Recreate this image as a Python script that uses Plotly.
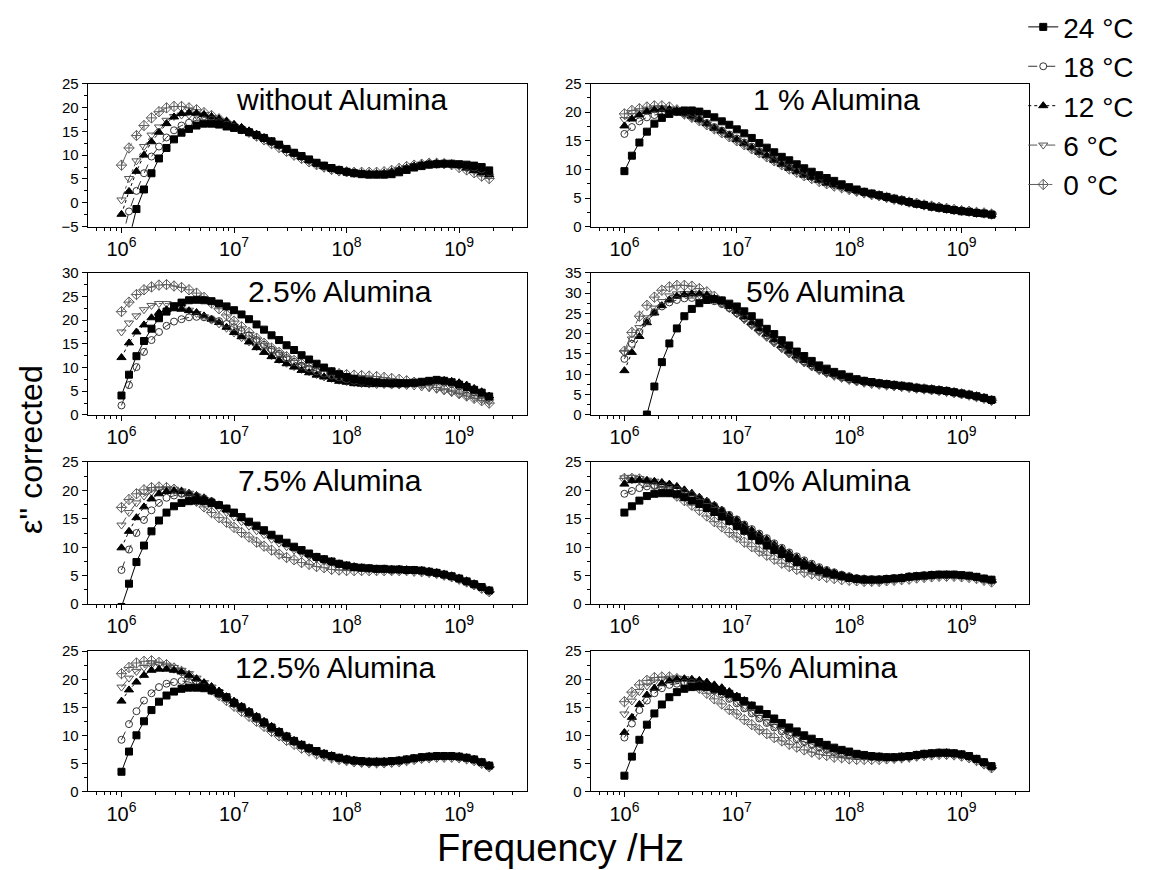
import plotly.graph_objects as go

# ---------------- data ----------------
freq_hz = [1.000e6, 1.166e6, 1.359e6, 1.585e6, 1.848e6, 2.154e6, 2.512e6, 2.929e6, 3.415e6, 3.981e6,
           4.642e6, 5.412e6, 6.310e6, 7.356e6, 8.577e6, 1.000e7, 1.166e7, 1.359e7, 1.585e7, 1.848e7,
           2.154e7, 2.512e7, 2.929e7, 3.415e7, 3.981e7, 4.642e7, 5.412e7, 6.310e7, 7.356e7, 8.577e7,
           1.000e8, 1.166e8, 1.359e8, 1.585e8, 1.848e8, 2.154e8, 2.512e8, 2.929e8, 3.415e8, 3.981e8,
           4.642e8, 5.412e8, 6.310e8, 7.356e8, 8.577e8, 1.000e9, 1.166e9, 1.359e9, 1.585e9, 1.848e9]

temperatures = ["24 °C", "18 °C", "12 °C", "6 °C", "0 °C"]
panel_titles = ["without Alumina", "1 % Alumina", "2.5% Alumina", "5% Alumina",
                "7.5% Alumina", "10% Alumina", "12.5% Alumina", "15% Alumina"]

# without Alumina
none_24 = [-14, -7.3, -1.3, 2.8, 6.2, 9.3, 11.5, 13.3, 14.7, 15.5,
           16.2, 16.6, 16.6, 16.4, 16.0, 15.7, 15.3, 14.8, 14.2, 13.6,
           12.9, 12.2, 11.3, 10.5, 9.8, 9.1, 8.4, 7.8, 7.3, 6.9,
           6.5, 6.2, 6.0, 5.9, 5.9, 5.9, 6.0, 6.4, 6.9, 7.4,
           7.7, 8.0, 8.1, 8.2, 8.2, 8.1, 8.0, 7.8, 7.5, 6.8]
none_18 = [-8.0, -1.8, 2.5, 6.2, 9.7, 11.8, 13.7, 15.2, 16.2, 16.8,
           17.3, 17.4, 17.4, 16.9, 16.4, 15.9, 15.3, 14.8, 14.2, 13.5,
           12.8, 12.0, 11.2, 10.4, 9.7, 9.0, 8.3, 7.7, 7.2, 6.8,
           6.5, 6.3, 6.1, 6.0, 6.0, 6.0, 6.2, 6.6, 7.1, 7.5,
           7.8, 8.1, 8.2, 8.2, 8.1, 7.9, 7.7, 7.4, 7.0, 6.4]
none_12 = [-2.4, 2.4, 6.6, 10.0, 12.8, 14.8, 16.6, 18.0, 18.7, 18.9,
           18.8, 18.5, 18.1, 17.6, 17.1, 16.4, 15.8, 15.1, 14.4, 13.7,
           12.9, 12.1, 11.2, 10.4, 9.6, 8.9, 8.2, 7.6, 7.1, 6.8,
           6.5, 6.3, 6.2, 6.1, 6.1, 6.2, 6.5, 6.9, 7.3, 7.7,
           8.0, 8.2, 8.3, 8.2, 8.0, 7.8, 7.3, 6.8, 6.3, 5.9]
none_6 = [0.6, 5.1, 8.8, 11.8, 14.2, 15.9, 17.3, 18.1, 18.4, 18.4,
          18.3, 18.0, 17.6, 17.1, 16.6, 16.0, 15.4, 14.8, 14.1, 13.4,
          12.6, 11.9, 11.1, 10.3, 9.5, 8.8, 8.1, 7.6, 7.1, 6.8,
          6.5, 6.4, 6.3, 6.2, 6.2, 6.3, 6.6, 7.0, 7.4, 7.8,
          8.1, 8.2, 8.3, 8.2, 8.0, 7.7, 7.2, 6.7, 6.2, 5.6]
none_0 = [7.9, 11.5, 14.1, 16.2, 17.8, 19.1, 19.9, 20.2, 20.2, 19.9,
          19.5, 18.9, 18.3, 17.6, 16.9, 16.2, 15.5, 14.8, 14.0, 13.2,
          12.4, 11.6, 10.8, 10.0, 9.3, 8.6, 8.0, 7.5, 7.0, 6.7,
          6.5, 6.4, 6.4, 6.4, 6.4, 6.5, 6.8, 7.2, 7.6, 7.9,
          8.1, 8.3, 8.3, 8.2, 8.0, 7.4, 6.9, 6.3, 5.6, 5.1]

# 1 % Alumina
al1_24 = [9.7, 12.4, 14.7, 16.6, 18.0, 19.0, 19.7, 20.1, 20.3, 20.3,
          20.1, 19.7, 19.1, 18.4, 17.8, 17.0, 16.3, 15.5, 14.6, 13.8,
          13.0, 12.2, 11.6, 10.9, 10.2, 9.6, 9.0, 8.5, 8.0, 7.4,
          6.9, 6.5, 6.1, 5.8, 5.5, 5.2, 4.9, 4.6, 4.3, 4.0,
          3.8, 3.5, 3.3, 3.1, 2.9, 2.7, 2.6, 2.4, 2.3, 2.1]
al1_18 = [16.2, 17.4, 18.4, 19.1, 19.5, 19.8, 20.0, 20.0, 19.8, 19.3,
          18.8, 18.1, 17.4, 16.8, 16.1, 15.4, 14.7, 14.0, 13.2, 12.6,
          11.8, 11.1, 10.4, 9.8, 9.2, 8.7, 8.2, 7.7, 7.3, 7.0,
          6.6, 6.3, 6.0, 5.7, 5.4, 5.1, 4.8, 4.5, 4.2, 4.0,
          3.7, 3.5, 3.3, 3.1, 2.9, 2.8, 2.6, 2.5, 2.3, 2.2]
al1_12 = [17.6, 18.8, 19.5, 20.1, 20.4, 20.5, 20.5, 20.3, 19.8, 19.3,
          18.7, 18.0, 17.2, 16.7, 16.0, 15.2, 14.5, 13.8, 13.0, 12.4,
          11.6, 10.9, 10.2, 9.6, 9.0, 8.6, 8.1, 7.6, 7.3, 7.0,
          6.6, 6.3, 6.0, 5.7, 5.4, 5.1, 4.8, 4.5, 4.2, 3.9,
          3.7, 3.5, 3.3, 3.1, 2.9, 2.7, 2.6, 2.4, 2.3, 2.1]
al1_6 = [18.7, 19.4, 19.9, 20.3, 20.5, 20.6, 20.5, 20.2, 19.7, 19.1,
         18.6, 17.9, 17.2, 16.5, 15.8, 15.1, 14.4, 13.7, 13.0, 12.3,
         11.6, 10.9, 10.3, 9.7, 9.1, 8.6, 8.1, 7.7, 7.3, 6.9,
         6.5, 6.2, 5.9, 5.6, 5.3, 5.0, 4.8, 4.5, 4.2, 4.0,
         3.7, 3.5, 3.3, 3.1, 2.9, 2.8, 2.6, 2.5, 2.3, 2.2]
al1_0 = [19.7, 20.3, 20.6, 20.9, 21.1, 21.1, 20.9, 20.4, 19.7, 19.1,
         18.5, 17.8, 17.1, 16.4, 15.7, 15.0, 14.3, 13.6, 12.9, 12.2,
         11.5, 10.8, 10.1, 9.5, 8.9, 8.4, 7.9, 7.5, 7.1, 6.8,
         6.5, 6.2, 5.9, 5.6, 5.4, 5.1, 4.8, 4.6, 4.3, 4.1,
         3.8, 3.6, 3.4, 3.2, 3.0, 2.8, 2.7, 2.5, 2.4, 2.2]

# 2.5 % Alumina
al25_24 = [4.1, 8.5, 12.4, 15.6, 18.2, 20.4, 21.8, 22.9, 23.7, 24.2,
           24.3, 24.2, 24.0, 23.5, 22.9, 22.1, 21.2, 20.2, 19.1, 18.0,
           16.8, 15.8, 14.7, 13.7, 12.6, 11.7, 10.8, 10.0, 9.2, 8.6,
           8.0, 7.6, 7.3, 7.1, 6.9, 6.8, 6.7, 6.7, 6.7, 6.8,
           7.0, 7.2, 7.4, 7.2, 6.9, 6.4, 5.9, 5.3, 4.7, 3.9]
al25_18 = [2.0, 6.3, 10.1, 13.3, 15.8, 17.5, 18.8, 19.7, 20.2, 20.6,
           20.7, 20.6, 20.2, 19.8, 19.2, 18.5, 17.7, 16.8, 15.8, 14.8,
           13.8, 12.9, 12.0, 11.2, 10.4, 9.8, 9.2, 8.7, 8.3, 7.9,
           7.5, 7.2, 7.0, 6.8, 6.7, 6.6, 6.5, 6.5, 6.5, 6.6,
           6.8, 7.0, 7.0, 6.8, 6.5, 6.0, 5.4, 4.8, 4.2, 3.6]
al25_12 = [12.1, 15.2, 17.5, 19.0, 20.5, 21.6, 22.2, 22.4, 22.3, 22.0,
           21.6, 20.9, 20.2, 19.5, 18.5, 17.4, 16.5, 15.4, 14.2, 13.2,
           12.3, 11.5, 10.8, 10.1, 9.4, 8.9, 8.4, 8.0, 7.5, 7.1,
           6.9, 6.6, 6.5, 6.4, 6.4, 6.4, 6.4, 6.5, 6.6, 6.7,
           6.9, 7.1, 7.3, 7.3, 7.1, 6.8, 6.3, 5.6, 4.9, 4.0]
al25_6 = [17.5, 19.4, 20.9, 22.2, 23.1, 23.5, 23.5, 23.3, 22.8, 22.1,
          21.4, 20.7, 20.0, 19.2, 18.3, 17.3, 16.3, 15.4, 14.4, 13.5,
          12.5, 11.7, 10.9, 10.2, 9.6, 9.1, 8.5, 8.0, 7.7, 7.3,
          7.0, 6.8, 6.6, 6.5, 6.4, 6.4, 6.3, 6.3, 6.2, 6.1,
          5.9, 5.7, 5.4, 5.1, 4.8, 4.4, 4.0, 3.6, 3.2, 2.8]
al25_0 = [21.8, 23.8, 25.4, 26.4, 27.0, 27.4, 27.5, 27.2, 26.9, 26.4,
          25.7, 24.8, 23.6, 22.4, 21.1, 19.8, 18.6, 17.4, 16.2, 15.1,
          14.1, 13.2, 12.3, 11.5, 10.8, 10.2, 9.7, 9.3, 9.0, 8.7,
          8.5, 8.4, 8.3, 8.2, 8.1, 7.9, 7.7, 7.5, 7.2, 6.9,
          6.6, 6.2, 5.8, 5.4, 5.0, 4.5, 4.0, 3.5, 3.0, 2.5]

# 5 % Alumina
al5_24 = [-22, -13, -5.5, 0.1, 7.0, 13.0, 17.6, 21.3, 24.3, 26.1,
          27.5, 28.3, 28.5, 28.2, 27.4, 26.7, 25.5, 24.3, 22.7, 21.2,
          19.9, 18.4, 17.1, 15.6, 14.5, 13.3, 12.2, 11.4, 10.6, 10.0,
          9.4, 8.8, 8.4, 8.1, 7.8, 7.6, 7.4, 7.2, 7.0, 6.7,
          6.5, 6.3, 6.1, 5.9, 5.6, 5.3, 5.0, 4.6, 4.2, 3.7]
al5_18 = [13.8, 17.5, 20.4, 23.1, 25.3, 26.7, 27.7, 28.3, 28.7, 28.8,
          28.7, 28.5, 28.0, 27.3, 26.3, 25.1, 23.8, 22.4, 20.9, 19.6,
          18.2, 16.8, 15.5, 14.3, 13.2, 12.2, 11.3, 10.5, 9.9, 9.3,
          8.8, 8.4, 8.1, 7.9, 7.7, 7.4, 7.2, 7.0, 6.8, 6.6,
          6.4, 6.2, 6.0, 5.8, 5.5, 5.2, 4.9, 4.5, 4.1, 3.6]
al5_12 = [10.9, 15.4, 19.3, 22.7, 25.1, 26.9, 28.3, 29.2, 29.6, 29.8,
          29.8, 29.5, 28.7, 27.8, 26.7, 25.5, 24.1, 22.7, 21.2, 19.9,
          18.5, 17.1, 15.7, 14.5, 13.4, 12.4, 11.4, 10.6, 10.0, 9.4,
          8.9, 8.5, 8.2, 7.9, 7.7, 7.4, 7.2, 7.0, 6.8, 6.6,
          6.4, 6.2, 6.0, 5.8, 5.5, 5.2, 4.9, 4.5, 4.1, 3.6]
al5_6 = [15.4, 18.7, 21.5, 23.9, 26.3, 27.9, 29.3, 29.8, 29.9, 29.9,
         29.5, 29.0, 28.2, 27.3, 26.2, 24.9, 23.5, 22.1, 20.6, 19.2,
         17.8, 16.4, 15.1, 14.0, 12.9, 11.9, 11.1, 10.4, 9.8, 9.3,
         8.8, 8.4, 8.1, 7.9, 7.7, 7.4, 7.2, 7.0, 6.8, 6.6,
         6.4, 6.2, 6.0, 5.8, 5.5, 5.2, 4.9, 4.5, 4.1, 3.6]
al5_0 = [15.7, 20.3, 24.3, 27.0, 29.0, 30.7, 31.5, 31.9, 31.9, 31.7,
         31.1, 30.3, 29.2, 27.9, 26.6, 25.2, 23.8, 22.3, 20.8, 19.4,
         18.0, 16.6, 15.3, 14.1, 13.1, 12.1, 11.2, 10.5, 9.8, 9.3,
         8.8, 8.4, 8.1, 7.8, 7.6, 7.4, 7.2, 7.0, 6.8, 6.6,
         6.4, 6.2, 6.0, 5.8, 5.5, 5.2, 4.9, 4.5, 4.1, 3.6]

# 7.5 % Alumina
al75_24 = [-0.5, 3.6, 7.4, 10.3, 12.8, 14.7, 16.1, 17.2, 17.8, 18.1,
           18.2, 18.1, 17.8, 17.4, 16.8, 16.1, 15.3, 14.5, 13.8, 13.0,
           12.2, 11.5, 10.8, 10.1, 9.5, 8.9, 8.3, 7.9, 7.5, 7.1,
           6.8, 6.5, 6.4, 6.3, 6.2, 6.2, 6.1, 6.1, 6.0, 6.0,
           5.9, 5.7, 5.5, 5.2, 4.9, 4.5, 4.0, 3.5, 3.0, 2.4]
al75_18 = [6.0, 9.6, 12.5, 14.8, 16.5, 17.8, 18.7, 19.1, 19.4, 19.3,
           19.0, 18.6, 18.1, 17.5, 16.8, 16.0, 15.2, 14.4, 13.6, 12.8,
           12.0, 11.3, 10.6, 9.9, 9.3, 8.7, 8.2, 7.8, 7.4, 7.0,
           6.7, 6.5, 6.4, 6.3, 6.2, 6.2, 6.1, 6.1, 6.0, 6.0,
           5.9, 5.7, 5.5, 5.2, 4.9, 4.5, 4.0, 3.5, 3.0, 2.4]
al75_12 = [9.9, 12.8, 15.2, 17.1, 18.5, 19.4, 19.8, 19.9, 19.8, 19.5,
           19.1, 18.7, 18.1, 17.4, 16.6, 15.8, 15.1, 14.4, 13.6, 12.8,
           12.1, 11.3, 10.6, 9.9, 9.4, 8.8, 8.3, 7.9, 7.5, 7.1,
           6.8, 6.6, 6.4, 6.3, 6.2, 6.2, 6.1, 6.1, 6.0, 6.0,
           5.9, 5.7, 5.5, 5.2, 4.9, 4.5, 4.0, 3.5, 3.0, 2.4]
al75_6 = [13.9, 16.1, 17.8, 19.0, 19.7, 20.1, 20.3, 20.2, 19.9, 19.5,
          19.0, 18.4, 17.6, 16.8, 16.1, 15.3, 14.5, 13.7, 12.9, 12.2,
          11.4, 10.7, 10.1, 9.5, 8.9, 8.4, 8.0, 7.6, 7.3, 7.0,
          6.7, 6.5, 6.3, 6.2, 6.1, 6.1, 6.0, 6.0, 6.0, 5.9,
          5.8, 5.6, 5.4, 5.1, 4.8, 4.4, 3.9, 3.4, 2.9, 2.3]
al75_0 = [17.0, 18.4, 19.4, 20.1, 20.5, 20.6, 20.5, 20.2, 19.7, 19.0,
          18.1, 17.1, 16.1, 15.2, 14.4, 13.5, 12.6, 11.8, 10.9, 10.2,
          9.5, 8.8, 8.2, 7.8, 7.3, 7.0, 6.6, 6.4, 6.1, 6.0,
          5.9, 5.9, 5.9, 5.9, 5.9, 5.9, 5.9, 5.9, 5.9, 5.8,
          5.7, 5.6, 5.4, 5.1, 4.8, 4.4, 3.9, 3.4, 2.8, 2.2]

# 10 % Alumina
al10_24 = [16.1, 17.2, 18.2, 19.0, 19.4, 19.5, 19.5, 19.3, 18.8, 18.2,
           17.6, 16.9, 16.2, 15.4, 14.6, 13.7, 12.9, 12.0, 11.2, 10.3,
           9.5, 8.8, 8.1, 7.4, 6.8, 6.3, 5.9, 5.5, 5.2, 4.9,
           4.6, 4.4, 4.3, 4.3, 4.3, 4.4, 4.5, 4.6, 4.8, 4.9,
           5.0, 5.1, 5.2, 5.2, 5.2, 5.1, 5.0, 4.8, 4.5, 4.3]
al10_18 = [19.4, 19.9, 20.4, 20.7, 20.8, 20.7, 20.5, 20.1, 19.7, 19.2,
           18.6, 18.0, 17.3, 16.5, 15.7, 14.9, 14.0, 13.2, 12.4, 11.6,
           10.7, 9.9, 9.1, 8.4, 7.7, 7.1, 6.5, 6.0, 5.6, 5.2,
           4.9, 4.6, 4.5, 4.4, 4.4, 4.5, 4.6, 4.7, 4.9, 5.0,
           5.1, 5.2, 5.2, 5.2, 5.2, 5.1, 5.0, 4.8, 4.5, 4.3]
al10_12 = [21.1, 21.7, 21.8, 21.7, 21.6, 21.4, 21.1, 20.7, 20.1, 19.5,
           18.8, 18.1, 17.4, 16.5, 15.6, 14.8, 13.9, 13.0, 12.2, 11.4,
           10.5, 9.7, 8.9, 8.2, 7.5, 6.9, 6.3, 5.9, 5.5, 5.1,
           4.8, 4.5, 4.4, 4.3, 4.3, 4.4, 4.5, 4.6, 4.8, 4.9,
           5.0, 5.1, 5.1, 5.1, 5.1, 5.0, 4.9, 4.7, 4.4, 4.2]
al10_6 = [22.2, 22.3, 22.1, 21.8, 21.6, 21.1, 20.7, 20.1, 19.4, 18.7,
          17.9, 17.1, 16.2, 15.3, 14.5, 13.6, 12.7, 11.8, 11.0, 10.2,
          9.4, 8.6, 7.9, 7.2, 6.6, 6.1, 5.7, 5.3, 5.0, 4.7,
          4.5, 4.3, 4.2, 4.1, 4.1, 4.2, 4.3, 4.4, 4.6, 4.7,
          4.8, 4.9, 5.0, 5.0, 5.0, 4.9, 4.8, 4.6, 4.3, 4.0]
al10_0 = [22.1, 22.1, 22.0, 21.6, 21.1, 20.5, 19.8, 19.0, 18.2, 17.4,
          16.5, 15.5, 14.5, 13.6, 12.6, 11.8, 10.9, 10.1, 9.3, 8.6,
          7.9, 7.2, 6.6, 6.1, 5.6, 5.3, 5.0, 4.7, 4.5, 4.3,
          4.2, 4.1, 4.0, 4.0, 4.0, 4.1, 4.2, 4.3, 4.4, 4.6,
          4.7, 4.8, 4.9, 4.9, 4.9, 4.8, 4.7, 4.5, 4.2, 3.9]

# 12.5 % Alumina
al125_24 = [3.5, 7.1, 10.0, 12.5, 14.5, 16.0, 17.1, 17.8, 18.3, 18.5,
            18.5, 18.4, 18.0, 17.5, 16.8, 15.8, 15.0, 14.1, 13.2, 12.3,
            11.4, 10.6, 9.8, 9.0, 8.3, 7.7, 7.2, 6.7, 6.3, 6.0,
            5.7, 5.5, 5.4, 5.3, 5.3, 5.3, 5.4, 5.5, 5.7, 5.9,
            6.1, 6.2, 6.3, 6.3, 6.3, 6.2, 6.0, 5.7, 5.2, 4.6]
al125_18 = [9.2, 12.0, 14.3, 16.2, 17.5, 18.6, 19.2, 19.5, 19.7, 19.5,
            19.1, 18.6, 18.0, 17.3, 16.5, 15.6, 14.7, 13.8, 12.9, 12.0,
            11.1, 10.3, 9.5, 8.8, 8.1, 7.5, 7.0, 6.5, 6.2, 5.9,
            5.6, 5.4, 5.3, 5.2, 5.2, 5.3, 5.4, 5.5, 5.7, 5.9,
            6.1, 6.2, 6.3, 6.3, 6.3, 6.2, 6.0, 5.7, 5.2, 4.6]
al125_12 = [16.1, 18.1, 19.5, 20.7, 21.6, 21.8, 21.8, 21.6, 21.3, 20.7,
            20.1, 19.4, 18.7, 17.9, 16.9, 16.1, 15.2, 14.3, 13.4, 12.5,
            11.6, 10.7, 9.9, 9.1, 8.4, 7.8, 7.2, 6.8, 6.4, 6.0,
            5.8, 5.6, 5.4, 5.3, 5.3, 5.3, 5.4, 5.5, 5.7, 5.9,
            6.1, 6.2, 6.3, 6.3, 6.3, 6.2, 6.0, 5.7, 5.2, 4.6]
al125_6 = [18.6, 20.2, 21.4, 22.1, 22.5, 22.7, 22.5, 22.1, 21.6, 21.0,
           20.2, 19.4, 18.6, 17.7, 16.6, 15.8, 14.9, 14.0, 13.1, 12.2,
           11.3, 10.4, 9.6, 8.8, 8.1, 7.5, 6.9, 6.5, 6.1, 5.8,
           5.6, 5.4, 5.2, 5.1, 5.1, 5.2, 5.3, 5.4, 5.6, 5.8,
           6.0, 6.1, 6.2, 6.2, 6.2, 6.1, 5.9, 5.6, 5.1, 4.5]
al125_0 = [21.0, 22.1, 22.9, 23.2, 23.3, 23.0, 22.6, 22.0, 21.4, 20.7,
           19.8, 19.0, 18.1, 17.1, 16.2, 15.2, 14.3, 13.4, 12.5, 11.6,
           10.7, 9.9, 9.1, 8.4, 7.7, 7.2, 6.7, 6.3, 6.0, 5.7,
           5.5, 5.3, 5.2, 5.1, 5.1, 5.1, 5.2, 5.3, 5.5, 5.7,
           5.9, 6.0, 6.1, 6.1, 6.1, 6.0, 5.8, 5.5, 5.0, 4.4]

# 15 % Alumina
al15_24 = [2.8, 6.2, 9.2, 11.9, 13.9, 15.5, 16.8, 17.7, 18.3, 18.6,
           18.7, 18.6, 18.3, 17.9, 17.4, 16.8, 16.1, 15.3, 14.6, 13.8,
           13.0, 12.2, 11.4, 10.7, 10.0, 9.4, 8.8, 8.3, 7.8, 7.4,
           7.1, 6.7, 6.5, 6.3, 6.2, 6.1, 6.1, 6.2, 6.3, 6.5,
           6.7, 6.8, 6.9, 6.9, 6.8, 6.6, 6.3, 5.8, 5.2, 4.5]
al15_18 = [9.6, 12.1, 14.5, 16.2, 17.5, 18.4, 19.0, 19.2, 19.4, 19.4,
           19.1, 18.7, 18.0, 17.3, 16.5, 15.7, 14.8, 13.9, 13.0, 12.2,
           11.4, 10.7, 10.0, 9.3, 8.8, 8.3, 7.8, 7.4, 7.0, 6.7,
           6.5, 6.3, 6.2, 6.1, 6.0, 6.0, 6.0, 6.1, 6.2, 6.4,
           6.6, 6.7, 6.8, 6.8, 6.7, 6.5, 6.2, 5.7, 5.1, 4.4]
al15_12 = [10.5, 13.2, 15.5, 17.2, 18.4, 19.2, 19.7, 20.0, 20.1, 20.0,
           19.8, 19.5, 19.0, 18.5, 17.8, 17.0, 16.2, 15.3, 14.3, 13.5,
           12.6, 11.8, 11.0, 10.3, 9.6, 9.0, 8.4, 7.9, 7.5, 7.1,
           6.8, 6.5, 6.4, 6.3, 6.2, 6.1, 6.1, 6.2, 6.3, 6.5,
           6.7, 6.8, 6.9, 6.9, 6.8, 6.6, 6.3, 5.8, 5.2, 4.5]
al15_6 = [13.8, 16.1, 17.8, 18.8, 19.5, 20.0, 20.2, 20.2, 20.1, 19.8,
          19.4, 19.0, 18.2, 17.5, 16.7, 15.9, 15.0, 14.1, 13.2, 12.4,
          11.6, 10.9, 10.2, 9.5, 8.9, 8.4, 7.9, 7.5, 7.1, 6.8,
          6.5, 6.3, 6.2, 6.1, 6.0, 6.0, 6.0, 6.0, 6.1, 6.3,
          6.5, 6.6, 6.7, 6.7, 6.6, 6.4, 6.1, 5.6, 5.0, 4.3]
al15_0 = [16.0, 17.7, 19.0, 19.8, 20.3, 20.4, 20.4, 20.1, 19.7, 19.1,
          18.4, 17.5, 16.5, 15.6, 14.6, 13.8, 12.8, 11.9, 11.0, 10.3,
          9.6, 9.0, 8.4, 7.9, 7.4, 7.0, 6.6, 6.4, 6.1, 6.0,
          5.8, 5.7, 5.7, 5.7, 5.7, 5.8, 5.9, 6.0, 6.1, 6.3,
          6.4, 6.5, 6.6, 6.6, 6.5, 6.3, 6.0, 5.5, 4.9, 4.2]

panels_data = [
    [none_24, none_18, none_12, none_6, none_0],
    [al1_24, al1_18, al1_12, al1_6, al1_0],
    [al25_24, al25_18, al25_12, al25_6, al25_0],
    [al5_24, al5_18, al5_12, al5_6, al5_0],
    [al75_24, al75_18, al75_12, al75_6, al75_0],
    [al10_24, al10_18, al10_12, al10_6, al10_0],
    [al125_24, al125_18, al125_12, al125_6, al125_0],
    [al15_24, al15_18, al15_12, al15_6, al15_0],
]
for pi, pdat in enumerate(panels_data):
    for si, s in enumerate(pdat):
        assert len(s) == len(freq_hz), (pi, si, len(s))

# ---------------- styling ----------------
FONT = "Liberation Sans, Arial, sans-serif"
y_ranges = [(-5, 25), (0, 25), (0, 30), (0, 35), (0, 25), (0, 25), (0, 25), (0, 25)]
col_dom = [(0.0762, 0.4576), (0.5132, 0.894)]
row_dom = [(0.7448, 0.9126), (0.5241, 0.6908), (0.3023, 0.469), (0.0828, 0.2471)]
title_pos = [(0.297, 0.8935), (0.727, 0.8935), (0.295, 0.6687), (0.7176, 0.6687),
             (0.2867, 0.447), (0.715, 0.447), (0.291, 0.2281), (0.7037, 0.2281)]

styles = [
    dict(symbol="square", color="black", dash="solid", size=7),
    dict(symbol="circle-open", color="#333333", dash="dash", size=7),
    dict(symbol="triangle-up", color="black", dash="dot", size=8),
    dict(symbol="triangle-down-open", color="#555555", dash="dashdot", size=8),
    dict(symbol="diamond-cross-open", color="#5e5e5e", dash="longdashdot", size=8),
]

fig = go.Figure()
for p in range(8):
    ax = "" if p == 0 else str(p + 1)
    # draw coldest first so 24 °C sits on top
    for si in [4, 3, 2, 1, 0]:
        st = styles[si]
        fig.add_trace(go.Scatter(
            x=freq_hz, y=panels_data[p][si],
            xaxis="x" + ax, yaxis="y" + ax,
            mode="lines+markers",
            name=temperatures[si], legendgroup=temperatures[si],
            showlegend=(p == 0), legendrank=si + 1,
            line=dict(color=st["color"], width=1, dash=st["dash"]),
            marker=dict(symbol=st["symbol"], size=st["size"], color=st["color"],
                        line=dict(color=st["color"], width=1)),
        ))

layout = dict(
    width=1151, height=870,
    margin=dict(l=0, r=0, t=0, b=0),
    paper_bgcolor="white", plot_bgcolor="white",
    font=dict(family=FONT, color="black"),
    legend=dict(x=0.889, y=1.008, xanchor="left", yanchor="top",
                font=dict(size=28, family=FONT), bgcolor="rgba(0,0,0,0)",
                tracegroupgap=0, itemwidth=30),
    annotations=[],
)
for p in range(8):
    r, c = divmod(p, 2)
    ax = "" if p == 0 else str(p + 1)
    layout["xaxis" + ax] = dict(
        domain=col_dom[c], anchor="y" + ax, type="log",
        range=[5.7, 9.6], dtick=1, exponentformat="power", showexponent="all",
        showline=True, linecolor="black", linewidth=1, mirror=True,
        ticks="outside", ticklen=5, tickcolor="black",
        minor=dict(ticks="outside", ticklen=3, tickcolor="black", dtick="D1"),
        showgrid=False, zeroline=False,
        tickfont=dict(size=16, family=FONT),
    )
    layout["yaxis" + ax] = dict(
        domain=row_dom[r], anchor="x" + ax,
        range=list(y_ranges[p]), dtick=5,
        showline=True, linecolor="black", linewidth=1, mirror=True,
        ticks="outside", ticklen=5, tickcolor="black",
        minor=dict(ticks="outside", ticklen=3, tickcolor="black", dtick=2.5),
        showgrid=False, zeroline=False,
        tickfont=dict(size=15, family=FONT),
    )
    tx, ty = title_pos[p]
    layout["annotations"].append(dict(
        text=panel_titles[p], x=tx, y=ty, xref="paper", yref="paper",
        xanchor="center", yanchor="middle", showarrow=False,
        font=dict(size=30, family=FONT, color="black")))

layout["annotations"].append(dict(
    text="Frequency /Hz", x=0.487, y=0.016, xref="paper", yref="paper",
    xanchor="center", yanchor="middle", showarrow=False,
    font=dict(size=38, family=FONT, color="black")))
layout["annotations"].append(dict(
    text="ε'' corrected", x=0.027, y=0.483, xref="paper", yref="paper",
    xanchor="center", yanchor="middle", textangle=-90, showarrow=False,
    font=dict(size=32, family=FONT, color="black")))

fig.update_layout(**layout)
fig.write_html("out.html")
